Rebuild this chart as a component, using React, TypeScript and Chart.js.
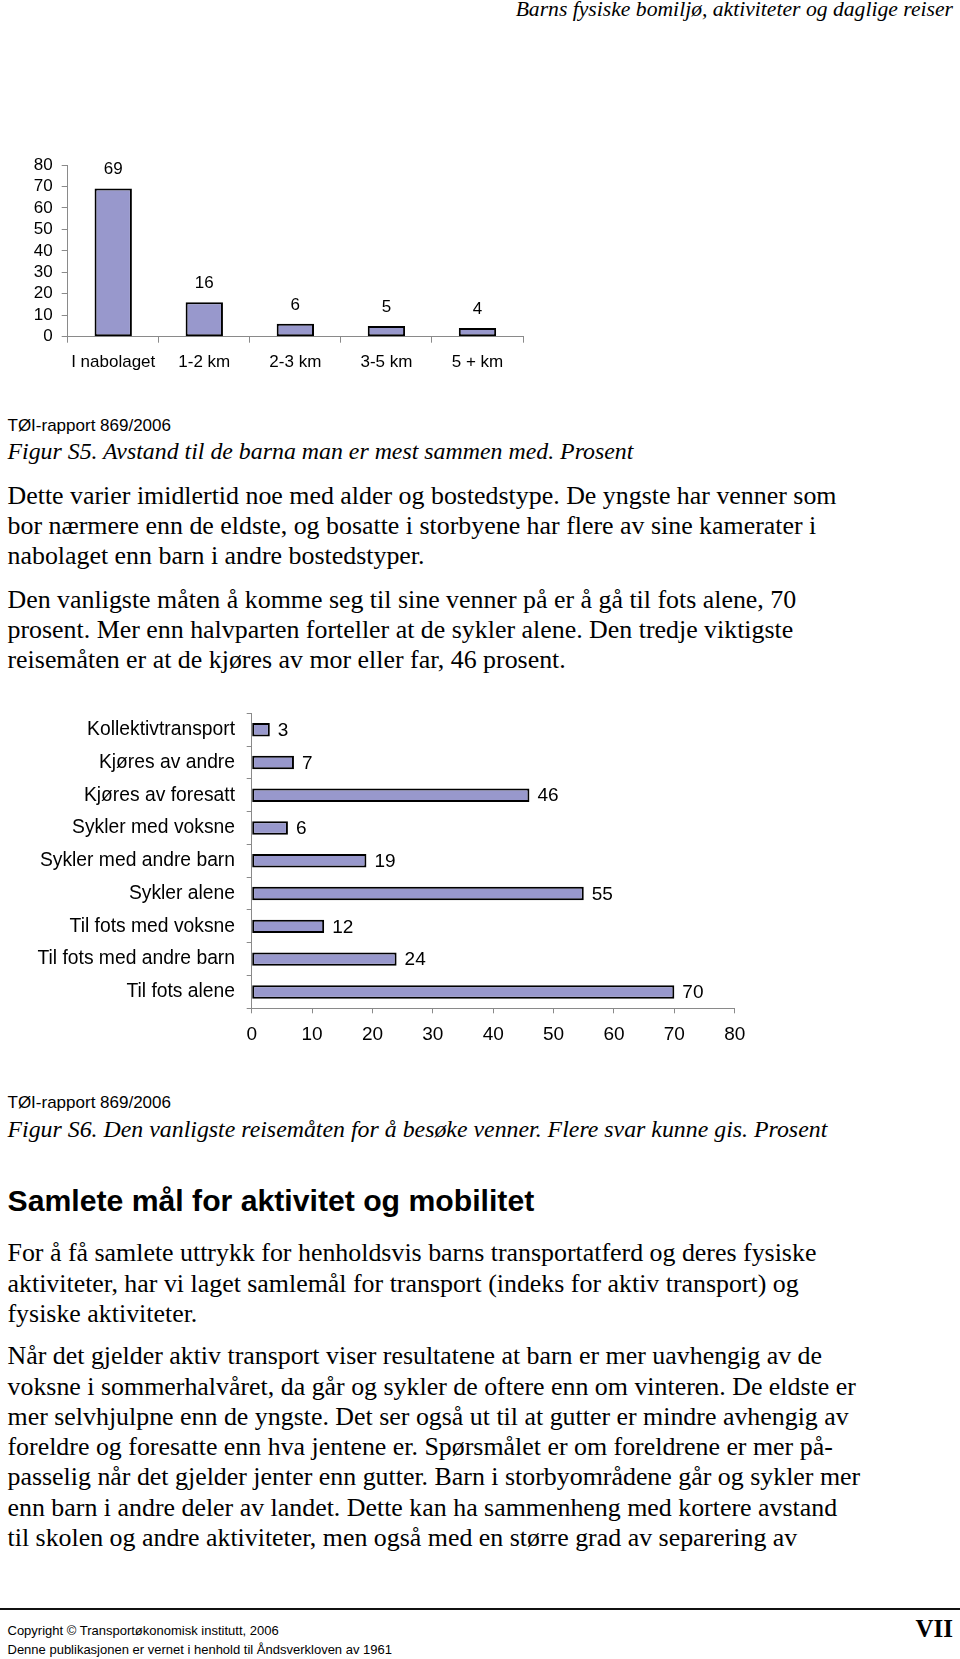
import React, { useEffect, useRef } from "react";
import { Chart, registerables } from "chart.js";

Chart.register(...registerables);

// ---------- DATA ----------
const distCategories = ["I nabolaget", "1-2 km", "2-3 km", "3-5 km", "5 + km"];
const distValues = [69, 16, 6, 5, 4];

const modeCategories = [
  "Kollektivtransport",
  "Kjøres av andre",
  "Kjøres av foresatt",
  "Sykler med voksne",
  "Sykler med andre barn",
  "Sykler alene",
  "Til fots med voksne",
  "Til fots med andre barn",
  "Til fots alene",
];
const modeValues = [3, 7, 46, 6, 19, 55, 12, 24, 70];

const axisMin = 0;
const axisMax = 80;
const axisStep = 10;

// ---------- STYLE ----------
const BAR_FILL = "#9898cc";
const AXIS_GRAY = "#8a8a8a";
const SANS = "'Liberation Sans', Arial, sans-serif";
const SERIF = "'Liberation Serif', 'Times New Roman', serif";

function makeLabelPlugin(horizontal: boolean, size: number) {
  return {
    id: "valueLabels" + (horizontal ? "H" : "V"),
    afterDatasetsDraw(chart: any) {
      const ctx = chart.ctx;
      ctx.save();
      ctx.font = `${size}px ${SANS}`;
      ctx.fillStyle = "#000";
      chart.data.datasets.forEach((ds: any, di: number) => {
        const meta = chart.getDatasetMeta(di);
        meta.data.forEach((el: any, i: number) => {
          const v = ds.data[i];
          if (horizontal) {
            ctx.textAlign = "left";
            ctx.textBaseline = "middle";
            ctx.fillText(String(v), el.x + 8, el.y + 1);
          } else {
            ctx.textAlign = "center";
            ctx.textBaseline = "middle";
            ctx.fillText(String(v), el.x, el.y - 19);
          }
        });
      });
      ctx.restore();
    },
  };
}

function DistanceChart() {
  const ref = useRef<HTMLCanvasElement>(null);
  useEffect(() => {
    const chart = new Chart(ref.current as HTMLCanvasElement, {
      type: "bar",
      data: {
        labels: distCategories,
        datasets: [
          {
            data: distValues,
            backgroundColor: BAR_FILL,
            borderColor: "#000",
            borderWidth: 2,
            borderSkipped: false,
            barPercentage: 0.41,
            categoryPercentage: 1,
          },
        ],
      },
      options: {
        animation: false,
        responsive: false,
        maintainAspectRatio: false,
        layout: { padding: { left: 0, right: 17, top: 25, bottom: 0 } },
        plugins: { legend: { display: false }, tooltip: { enabled: false } },
        scales: {
          x: {
            grid: { display: true, drawOnChartArea: false, drawTicks: true, tickLength: 6, color: AXIS_GRAY, offset: true },
            border: { display: true, color: AXIS_GRAY, width: 1 },
            ticks: { color: "#000", font: { size: 17, family: SANS }, padding: 9, maxRotation: 0, autoSkip: false },
            afterFit: (s: any) => { s.height = 43.3; },
          },
          y: {
            min: axisMin,
            max: axisMax,
            grid: { display: true, drawOnChartArea: false, drawTicks: true, tickLength: 6, color: AXIS_GRAY },
            border: { display: true, color: AXIS_GRAY, width: 1 },
            ticks: { stepSize: axisStep, autoSkip: false, color: "#000", font: { size: 17, family: SANS }, padding: 9 },
            afterFit: (s: any) => { s.width = 67.7; },
          },
        },
      },
      plugins: [makeLabelPlugin(false, 17)],
    } as any);
    return () => chart.destroy();
  }, []);
  return (
    <canvas ref={ref} width={540} height={240}
      style={{ position: "absolute", left: 0, top: 140, width: 540, height: 240 }} />
  );
}

function ModeChart() {
  const ref = useRef<HTMLCanvasElement>(null);
  useEffect(() => {
    const chart = new Chart(ref.current as HTMLCanvasElement, {
      type: "bar",
      data: {
        labels: modeCategories,
        datasets: [
          {
            data: modeValues,
            backgroundColor: BAR_FILL,
            borderColor: "#000",
            borderWidth: 2,
            borderSkipped: false,
            barPercentage: 0.41,
            categoryPercentage: 1,
          },
        ],
      },
      options: {
        indexAxis: "y",
        animation: false,
        responsive: false,
        maintainAspectRatio: false,
        layout: { padding: { left: 0, right: 45.3, top: 21, bottom: 0 } },
        plugins: { legend: { display: false }, tooltip: { enabled: false } },
        scales: {
          x: {
            min: axisMin,
            max: axisMax,
            grid: { display: true, drawOnChartArea: false, drawTicks: true, tickLength: 5, color: AXIS_GRAY },
            border: { display: true, color: AXIS_GRAY, width: 1 },
            ticks: { stepSize: axisStep, autoSkip: false, color: "#000", font: { size: 19, family: SANS }, padding: 10, maxRotation: 0 },
            afterFit: (s: any) => { s.height = 51.7; },
          },
          y: {
            grid: { display: true, drawOnChartArea: false, drawTicks: true, tickLength: 5, color: AXIS_GRAY, offset: true },
            border: { display: true, color: AXIS_GRAY, width: 1 },
            ticks: { color: "#000", font: { size: 19.3, family: SANS }, padding: 11.7, autoSkip: false },
            afterFit: (s: any) => { s.width = 251.7; },
          },
        },
      },
      plugins: [makeLabelPlugin(true, 19)],
    } as any);
    return () => chart.destroy();
  }, []);
  return (
    <canvas ref={ref} width={780} height={370}
      style={{ position: "absolute", left: 0, top: 690, width: 780, height: 370 }} />
  );
}

type TProps = {
  x: number;
  y: number; // baseline
  size: number;
  sans?: boolean;
  italic?: boolean;
  bold?: boolean;
  right?: boolean;
  children: React.ReactNode;
};

function T({ x, y, size, sans, italic, bold, right, children }: TProps) {
  const k = sans ? 0.8465 : 0.8375;
  const style: React.CSSProperties = {
    position: "absolute",
    top: y - k * size,
    fontSize: size,
    lineHeight: `${size}px`,
    fontFamily: sans ? SANS : SERIF,
    fontStyle: italic ? "italic" : "normal",
    fontWeight: bold ? 700 : 400,
    whiteSpace: "nowrap",
    color: "#000",
  };
  if (right) style.right = 960 - x;
  else style.left = x;
  return <div style={style}>{children}</div>;
}

const BODY = 25.9;
const CAP = 23.85;

export default function App() {
  return (
    <div style={{ position: "absolute", left: 0, top: 0, width: 960, height: 1659, background: "#fff", overflow: "hidden" }}>
      <T x={953} y={17} size={21.65} italic right>Barns fysiske bomiljø, aktiviteter og daglige reiser</T>

      <DistanceChart />

      <T x={7.5} y={431} size={17} sans>TØI-rapport 869/2006</T>
      <T x={7.5} y={460} size={CAP} italic>Figur S5. Avstand til de barna man er mest sammen med. Prosent</T>

      <T x={7.5} y={504.3} size={BODY}>Dette varier imidlertid noe med alder og bostedstype. De yngste har venner som</T>
      <T x={7.5} y={534.3} size={BODY}>bor nærmere enn de eldste, og bosatte i storbyene har flere av sine kamerater i</T>
      <T x={7.5} y={564.3} size={BODY}>nabolaget enn barn i andre bostedstyper.</T>

      <T x={7.5} y={608.5} size={BODY}>Den vanligste måten å komme seg til sine venner på er å gå til fots alene, 70</T>
      <T x={7.5} y={638.3} size={BODY}>prosent. Mer enn halvparten forteller at de sykler alene. Den tredje viktigste</T>
      <T x={7.5} y={668.2} size={BODY}>reisemåten er at de kjøres av mor eller far, 46 prosent.</T>

      <ModeChart />

      <T x={7.5} y={1108.3} size={17} sans>TØI-rapport 869/2006</T>
      <T x={7.5} y={1138} size={CAP} italic>Figur S6. Den vanligste reisemåten for å besøke venner. Flere svar kunne gis. Prosent</T>

      <T x={7.5} y={1211.5} size={30.2} sans bold>Samlete mål for aktivitet og mobilitet</T>

      <T x={7.5} y={1262} size={BODY}>For å få samlete uttrykk for henholdsvis barns transportatferd og deres fysiske</T>
      <T x={7.5} y={1292.5} size={BODY}>aktiviteter, har vi laget samlemål for transport (indeks for aktiv transport) og</T>
      <T x={7.5} y={1322.5} size={BODY}>fysiske aktiviteter.</T>

      <T x={7.5} y={1365} size={BODY}>Når det gjelder aktiv transport viser resultatene at barn er mer uavhengig av de</T>
      <T x={7.5} y={1395.5} size={BODY}>voksne i sommerhalvåret, da går og sykler de oftere enn om vinteren. De eldste er</T>
      <T x={7.5} y={1425.5} size={BODY}>mer selvhjulpne enn de yngste. Det ser også ut til at gutter er mindre avhengig av</T>
      <T x={7.5} y={1455.8} size={BODY}>foreldre og foresatte enn hva jentene er. Spørsmålet er om foreldrene er mer på-</T>
      <T x={7.5} y={1486} size={BODY}>passelig når det gjelder jenter enn gutter. Barn i storbyområdene går og sykler mer</T>
      <T x={7.5} y={1516.5} size={BODY}>enn barn i andre deler av landet. Dette kan ha sammenheng med kortere avstand</T>
      <T x={7.5} y={1546.5} size={BODY}>til skolen og andre aktiviteter, men også med en større grad av separering av</T>

      <div style={{ position: "absolute", left: 0, top: 1608.3, width: 960, height: 2, background: "#111" }} />
      <T x={7.5} y={1635.5} size={13} sans>Copyright © Transportøkonomisk institutt, 2006</T>
      <T x={7.5} y={1654.5} size={13} sans>Denne publikasjonen er vernet i henhold til Åndsverkloven av 1961</T>
      <T x={953} y={1637} size={25} bold right>VII</T>
    </div>
  );
}
